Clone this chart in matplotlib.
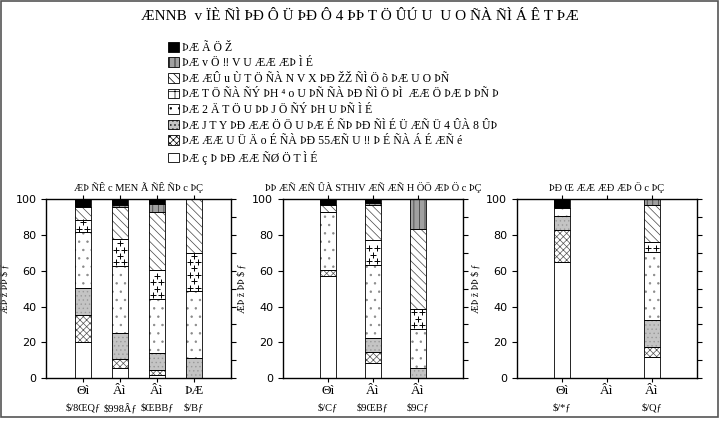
import matplotlib
matplotlib.use('Agg')
import matplotlib.pyplot as plt
import numpy as np
from matplotlib.patches import Patch, Rectangle

plt.rcParams['hatch.linewidth'] = 0.5
plt.rcParams['font.family'] = ['Liberation Serif', 'DejaVu Serif']

title = 'ÆNNB  v ÏÈ ÑÌ ÞÐ Ô Ü ÞÐ Ô 4 ÞÞ T Ö ÛÚ U  U O ÑÀ ÑÌ Á Ê T ÞÆ'
legend_labels = ['ÞÆ Ã Ö Ž',
                 'ÞÆ v Ö ‼ V U ÆÆ ÆÞ Ì É',
                 'ÞÆ ÆÛ u Ù T Ö ÑÀ N V X ÞÐ ŽŽ ÑÌ Ö õ ÞÆ U O ÞÑ',
                 'ÞÆ T Ö ÑÀ ÑÝ ÞH ⁴ o U ÞÑ ÑÀ ÞÐ ÑÌ Ö ÞÌ  ÆÆ Ö ÞÆ Þ ÞÑ Þ',
                 'ÞÆ 2 Ä T Ö U ÞÞ J Ö ÑÝ ÞH U ÞÑ Ì É',
                 'ÞÆ J T Y ÞÐ ÆÆ Ö Ö U ÞÆ É ÑÞ ÞÐ ÑÌ É Ü ÆÑ Ü 4 ÛÀ 8 ÛÞ',
                 'ÞÆ ÆÆ U Ü Ä o É ÑÀ ÞÐ 55ÆÑ U ‼ Þ É ÑÀ Á É ÆÑ é',
                 'ÞÆ ç Þ ÞÐ ÆÆ ÑØ Ö T Ì É']
panel_titles = ['ÆÞ ÑÊ c MEN Ã ÑÊ ÑÞ c ÞÇ',
                'ÞÞ ÆÑ ÆÑ ÛÀ STHIV ÆÑ ÆÑ H ÖÖ ÆÞ Ö c ÞÇ',
                'ÞÐ Œ ÆÆ ÆÐ ÆÞ Ö c ÞÇ']
ylabel = 'ÆÞ ž ÞÞ $ ƒ'

# panel 1
p1_ticks = ['Θì', 'Âì', 'Âì', 'ÞÆ']
p1_sub = ['$/8ŒQƒ', '$998Âƒ', '$ŒBBƒ', '$/Bƒ']
p1_white = [20, 5.6, 2, 0]
p1_check = [15.5, 5, 2.5, 0]
p1_gray = [15, 14.4, 9.5, 11]
p1_dots = [31, 37.7, 30.4, 37.5]
p1_plus = [7, 15.3, 16, 21.5]
p1_diag = [7, 17.5, 32.5, 30]
p1_vert = [0, 1.5, 4.6, 0]
p1_black = [4.5, 3, 2.5, 0]

# panel 2
p2_ticks = ['Θì', 'Âì', 'Âì']
p2_sub = ['$/Cƒ', '$9ŒBƒ', '$9Cƒ']
p2_white = [57, 8.4, 0]
p2_check = [3.5, 6, 0]
p2_gray = [0, 8, 5.6]
p2_dots = [32.2, 41, 22]
p2_plus = [0, 13.6, 11.2]
p2_diag = [3.9, 19.6, 44.8]
p2_vert = [0, 1.4, 16.4]
p2_black = [3.4, 2, 0]

# panel 3
p3_ticks = ['Θì', 'Âì', 'Âì']
p3_sub = ['$/*ƒ', '', '$/Qƒ']
p3_white = [65, 0, 11.6]
p3_check = [17.6, 0, 5.9]
p3_gray = [8.1, 0, 15.1]
p3_dots = [4.6, 0, 37.9]
p3_plus = [0, 0, 5.8]
p3_diag = [0, 0, 20.7]
p3_vert = [0, 0, 3]
p3_black = [4.7, 0, 0]

# bottom -> top: (face, hatch, hatch colour)
styles = [('white', '', 'black'),
          ('white', 'xxxxx', '#555555'),
          ('#c4c4c4', '....', '#999999'),
          ('white', '..', '#888888'),
          ('white', '', 'black'),
          ('white', '\\\\\\\\', '#444444'),
          ('#a0a0a0', '|||', '#333333'),
          ('black', '', 'black')]


def draw_panel(ax, layers, ticks, sub, ptitle):
    x = np.arange(1, len(ticks) + 1)
    w = 0.42 if len(ticks) == 4 else 0.36
    bottom = np.zeros(len(ticks))
    for k, vals in enumerate(layers):
        vals = np.array(vals, dtype=float)
        face, hatch, hc = styles[k]
        for i in range(len(x)):
            if vals[i] <= 0:
                continue
            ax.bar(x[i], vals[i], w, bottom=bottom[i], color=face, hatch=hatch,
                   edgecolor=hc, linewidth=0, zorder=2)
            ax.bar(x[i], vals[i], w, bottom=bottom[i], fill=False,
                   edgecolor='black', linewidth=0.6, zorder=3)
            if k == 4:
                ys = np.arange(bottom[i] + 2.0, bottom[i] + vals[i] - 1, 3.6)
                for j, yy in enumerate(ys):
                    offs = [-0.11, 0.11] if j % 2 == 0 else [0.0]
                    ax.scatter([x[i] + o * w / 0.42 for o in offs], [yy] * len(offs),
                               marker='+', s=18, color='black', linewidths=0.7, zorder=3)
        bottom += vals
    ax.set_xlim(0, len(ticks) + 1)
    ax.set_ylim(0, 100)
    ax.set_xticks(x)
    ax.set_xticklabels(ticks, fontsize=9.5)
    for i in range(len(x)):
        ax.annotate(sub[i], xy=(x[i], 0), xycoords=('data', 'axes fraction'),
                    xytext=(0, -18), textcoords='offset points', ha='center', va='top',
                    fontsize=7.5)
    ax.set_yticks(np.arange(0, 101, 20))
    ax.set_yticks(np.arange(0, 101, 10), minor=True)
    ax.tick_params(axis='y', which='major', left=True, right=True, direction='out',
                   length=3.5, labelsize=8, labelfontfamily='DejaVu Sans')
    ax.tick_params(axis='y', which='minor', left=False, right=True, direction='out',
                   length=3.5, width=0.8)
    ax.tick_params(axis='x', bottom=True, top=True, direction='out', length=3, pad=2)
    ax.set_ylabel(ylabel, fontsize=7, labelpad=4)
    ax.set_title(ptitle, fontsize=7.5, pad=6)
    for s in ax.spines.values():
        s.set_linewidth(1.0)


fig = plt.figure(figsize=(7.2, 4.23), dpi=100)
fig.patches.append(Rectangle((0.002, 0.014), 0.995, 0.983, transform=fig.transFigure,
                             fill=False, edgecolor='#555555', linewidth=1.2))
fig.text(0.5, 0.962, title, ha='center', va='center', fontsize=11)

ax1 = fig.add_axes([0.064, 0.106, 0.257, 0.423])
ax2 = fig.add_axes([0.393, 0.106, 0.25, 0.423])
ax3 = fig.add_axes([0.718, 0.106, 0.25, 0.423])
draw_panel(ax1, [p1_white, p1_check, p1_gray, p1_dots, p1_plus, p1_diag, p1_vert, p1_black],
           p1_ticks, p1_sub, panel_titles[0])
draw_panel(ax2, [p2_white, p2_check, p2_gray, p2_dots, p2_plus, p2_diag, p2_vert, p2_black],
           p2_ticks, p2_sub, panel_titles[1])
draw_panel(ax3, [p3_white, p3_check, p3_gray, p3_dots, p3_plus, p3_diag, p3_vert, p3_black],
           p3_ticks, p3_sub, panel_titles[2])

leg_styles = list(reversed(styles))
handles = []
for k, (face, hatch, hc) in enumerate(leg_styles):
    if k == 3:
        hatch = '+'
        hc = '#aaaaaa'
    handles.append(Patch(facecolor=face, hatch=hatch, edgecolor='black', linewidth=0.6))
fig.legend(handles, legend_labels, loc='upper left', bbox_to_anchor=(0.225, 0.915),
           frameon=False, fontsize=8.5, handlelength=0.9, handleheight=0.9,
           handletextpad=0.3, labelspacing=0.3, borderpad=0)

fig.savefig('out.png', dpi=100)
